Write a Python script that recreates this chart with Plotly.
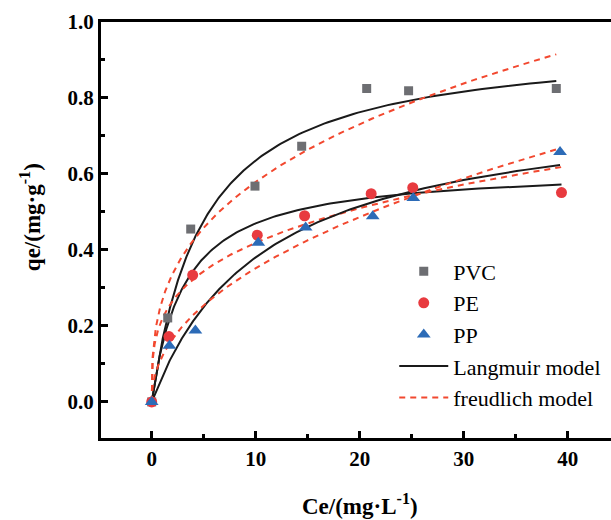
import numpy as np
import plotly.graph_objects as go

# Equilibrium adsorption data (Ce in mg/L, qe in mg/g)
ce_pvc = [0.0, 1.54, 3.75, 9.93, 14.42, 20.67, 24.7, 38.9]
qe_pvc = [0.0, 0.221, 0.455, 0.568, 0.673, 0.825, 0.819, 0.825]

ce_pe = [0.0, 1.66, 3.94, 10.15, 14.7, 21.1, 25.1, 39.4]
qe_pe = [0.0, 0.172, 0.334, 0.439, 0.490, 0.548, 0.564, 0.551]

ce_pp = [0.0, 1.70, 4.2, 10.25, 14.8, 21.25, 25.15, 39.26]
qe_pp = [0.0, 0.148, 0.188, 0.419, 0.459, 0.489, 0.537, 0.658]

# Fitted isotherm parameters: Langmuir (qm, KL) and Freundlich (KF, 1/n)
langmuir_qm = {"PVC": 0.953, "PE": 0.6176, "PP": 0.797}
langmuir_kl = {"PVC": 0.2004, "PE": 0.3185, "PP": 0.0914}
freundlich_kf = {"PVC": 0.2667, "PE": 0.218, "PP": 0.1198}
freundlich_inv_n = {"PVC": 0.3367, "PE": 0.2837, "PP": 0.468}

x_ticks = [0, 10, 20, 30, 40]
y_ticks = [0.0, 0.2, 0.4, 0.6, 0.8, 1.0]

series = [
    ("PVC", ce_pvc, qe_pvc, "square", "#6d6e72", 9),
    ("PE", ce_pe, qe_pe, "circle", "#e83a3f", 11),
    ("PP", ce_pp, qe_pp, "triangle-up", "#2c6bb7", 12),
]

SERIF = "Liberation Serif"
fig = go.Figure()

# Model curves
for i, (name, ce, qe, sym, col, size) in enumerate(series):
    c = np.concatenate([[0.0], np.geomspace(0.005, max(ce), 400)])
    qm, kl = langmuir_qm[name], langmuir_kl[name]
    kf, inv_n = freundlich_kf[name], freundlich_inv_n[name]
    fig.add_trace(go.Scatter(
        x=c, y=qm * kl * c / (1 + kl * c), mode="lines",
        line=dict(color="#1a1a1a", width=2),
        name="Langmuir model", legendgroup="lang", showlegend=(i == 0),
        legendrank=4,
    ))
    fig.add_trace(go.Scatter(
        x=c, y=kf * np.power(c, inv_n), mode="lines",
        line=dict(color="#f2482f", width=2, dash="6px,5px"),
        name="freudlich model", legendgroup="freu", showlegend=(i == 0),
        legendrank=5,
    ))

# Measured points
for i, (name, ce, qe, sym, col, size) in enumerate(series):
    fig.add_trace(go.Scatter(
        x=ce, y=qe, mode="markers", name=name,
        marker=dict(symbol=sym, color=col, size=size, line=dict(width=0)),
        legendrank=i + 1,
    ))

tick_font = dict(family=SERIF, size=21, color="black", weight="bold")
title_font = dict(family=SERIF, size=23, color="black", weight="bold")

fig.update_layout(
    width=611, height=520,
    margin=dict(l=101, r=0, t=21.5, b=81.5),
    paper_bgcolor="white", plot_bgcolor="white",
    font=dict(family=SERIF, color="black"),
    showlegend=True,
    legend=dict(
        x=0.575, y=0.451, xanchor="left", yanchor="top",
        font=dict(family=SERIF, size=22, color="black"),
        bgcolor="rgba(0,0,0,0)", borderwidth=0,
        itemwidth=49, tracegroupgap=0,
    ),
    xaxis=dict(
        range=[-4.875, 44.16], tickvals=x_ticks,
        ticks="inside", ticklen=7, tickwidth=3, tickcolor="black",
        showline=True, linewidth=3, linecolor="black", mirror=True,
        showgrid=False, zeroline=False, tickfont=tick_font,
        minor=dict(dtick=5, ticks="inside", ticklen=4, tickwidth=3, tickcolor="black", showgrid=False),
    ),
    yaxis=dict(
        range=[-0.095, 1.0], tickvals=y_ticks, tickformat=".1f",
        ticks="inside", ticklen=7, tickwidth=3, tickcolor="black",
        showline=True, linewidth=3, linecolor="black", mirror=False,
        showgrid=False, zeroline=False, tickfont=tick_font,
        minor=dict(dtick=0.1, tick0=0, ticks="inside", ticklen=4, tickwidth=3, tickcolor="black", showgrid=False),
    ),
    annotations=[
        dict(text="Ce/(mg·L<sup>-1</sup>)", xref="paper", yref="paper",
             x=0.508, y=-0.16, xanchor="center", yanchor="middle",
             showarrow=False, font=title_font),
        dict(text="qe/(mg·g<sup>-1</sup>)", xref="paper", yref="paper",
             x=-0.138, y=0.53, xanchor="center", yanchor="middle",
             textangle=-90, showarrow=False, font=title_font),
    ],
)

fig.write_html("out.html")
